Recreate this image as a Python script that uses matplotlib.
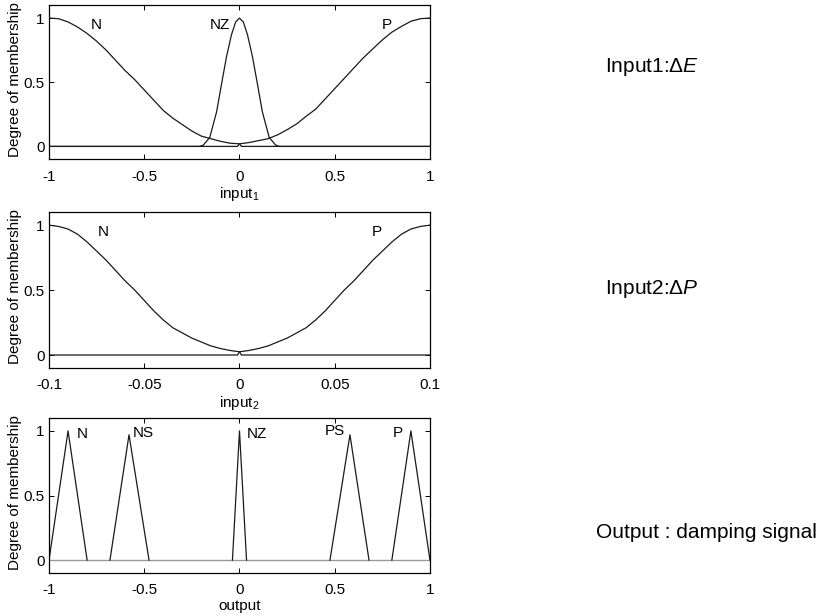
import matplotlib
matplotlib.use("Agg")
import matplotlib.pyplot as plt

plt.rcParams["font.family"] = ["Liberation Sans", "DejaVu Sans"]
plt.rcParams["mathtext.fontset"] = "custom"
plt.rcParams["mathtext.rm"] = "Liberation Sans"
plt.rcParams["mathtext.it"] = "Liberation Sans:italic"

# ── input1 membership functions ──────────────────────────────────────────────
IN1_N_X = [-1, -0.95, -0.9, -0.85, -0.8, -0.75, -0.7, -0.65, -0.6, -0.55, -0.5,
           -0.45, -0.4, -0.35, -0.3, -0.25, -0.2, -0.15, -0.1, -0.05, 0, 0.01, 1]
IN1_N_Y = [1.0, 0.995, 0.97, 0.93, 0.88, 0.82, 0.75, 0.67, 0.59, 0.52, 0.44,
           0.36, 0.28, 0.22, 0.17, 0.12, 0.08, 0.06, 0.04, 0.025, 0.02, 0, 0]
IN1_P_X = [-1, -0.01, 0, 0.05, 0.1, 0.15, 0.2, 0.25, 0.3, 0.35, 0.4, 0.45, 0.5,
           0.55, 0.6, 0.65, 0.7, 0.75, 0.8, 0.85, 0.9, 0.95, 1]
IN1_P_Y = [0, 0, 0.02, 0.03, 0.045, 0.06, 0.09, 0.13, 0.175, 0.235, 0.29, 0.37,
           0.45, 0.53, 0.61, 0.69, 0.76, 0.83, 0.89, 0.935, 0.975, 0.995, 1.0]
IN1_NZ_X = [-1, -0.21, -0.19, -0.156, -0.12, -0.095, -0.068, -0.042, -0.02, 0,
            0.02, 0.042, 0.068, 0.095, 0.12, 0.156, 0.19, 0.21, 1]
IN1_NZ_Y = [0, 0, 0.01, 0.07, 0.27, 0.48, 0.70, 0.87, 0.97, 1.0,
            0.97, 0.87, 0.70, 0.48, 0.27, 0.07, 0.01, 0, 0]
IN1_LABELS = ["N", "NZ", "P"]
IN1_LABEL_X = [-0.75, -0.105, 0.772]
IN1_LABEL_Y = [0.945, 0.945, 0.945]

# ── input2 membership functions ───────────────────────────────────────────────
IN2_N_X = [-0.1, -0.095, -0.09, -0.085, -0.08, -0.075, -0.07, -0.065, -0.06,
           -0.055, -0.05, -0.045, -0.04, -0.035, -0.03, -0.025, -0.02, -0.015,
           -0.01, -0.005, 0, 0.001, 0.1]
IN2_N_Y = [1.0, 0.99, 0.97, 0.93, 0.87, 0.80, 0.73, 0.65, 0.57, 0.50, 0.42,
           0.34, 0.27, 0.21, 0.17, 0.13, 0.10, 0.07, 0.05, 0.035, 0.025, 0, 0]
IN2_P_X = [-0.1, -0.001, 0, 0.005, 0.01, 0.015, 0.02, 0.025, 0.03, 0.035, 0.04,
           0.045, 0.05, 0.055, 0.06, 0.065, 0.07, 0.075, 0.08, 0.085, 0.09,
           0.095, 0.1]
IN2_P_Y = [0, 0, 0.025, 0.035, 0.05, 0.07, 0.10, 0.13, 0.17, 0.21, 0.27, 0.34,
           0.42, 0.50, 0.57, 0.65, 0.73, 0.80, 0.87, 0.93, 0.97, 0.99, 1.0]
IN2_LABELS = ["N", "P"]
IN2_LABEL_X = [-0.0716, 0.072]
IN2_LABEL_Y = [0.948, 0.948]

# ── output membership functions (triangles) ──────────────────────────────────
OUT_MF = {
    "N":  ([-1.0, -0.9, -0.8], [0, 1.0, 0]),
    "NS": ([-0.68, -0.58, -0.475], [0, 0.97, 0]),
    "NZ": ([-0.037, 0.0, 0.037], [0, 1.0, 0]),
    "PS": ([0.475, 0.58, 0.68], [0, 0.97, 0]),
    "P":  ([0.8, 0.9, 1.0], [0, 1.0, 0]),
}
OUT_LABELS = ["N", "NS", "NZ", "PS", "P"]
OUT_LABEL_X = [-0.825, -0.503, 0.089, 0.50, 0.833]
OUT_LABEL_Y = [0.975, 0.985, 0.98, 1.0, 0.985]

LINE = "#1a1a1a"
FS = 11

fig = plt.figure(figsize=(8.21, 6.16), dpi=100)
fig.patch.set_facecolor("white")


def style(ax, xlim, xticks, xticklabels, xlabel):
    ax.set_xlim(*xlim)
    ax.set_ylim(-0.1, 1.1)
    ax.set_xticks(xticks)
    ax.set_xticklabels(xticklabels)
    ax.set_yticks([0, 0.5, 1])
    ax.set_yticklabels(["0", "0.5", "1"])
    ax.tick_params(direction="in", length=3.5, width=0.7, labelsize=FS,
                   top=True, right=True, pad=3)
    ax.tick_params(axis="x", pad=7.5)
    for sp in ax.spines.values():
        sp.set_linewidth(0.9)
        sp.set_color("black")
    ax.set_ylabel("Degree of membership", fontsize=FS)
    ax.yaxis.set_label_coords(-0.072, 0.52)
    ax.set_xlabel(xlabel, fontsize=FS, labelpad=1)


# panel 1
ax1 = fig.add_axes([0.0597, 0.7415, 0.464, 0.25])
ax1.plot(IN1_N_X, IN1_N_Y, color=LINE, lw=0.9)
ax1.plot(IN1_NZ_X, IN1_NZ_Y, color=LINE, lw=0.9)
ax1.plot(IN1_P_X, IN1_P_Y, color=LINE, lw=0.9)
for lab, x, y in zip(IN1_LABELS, IN1_LABEL_X, IN1_LABEL_Y):
    ax1.text(x, y, lab, fontsize=FS, ha="center", va="center")
style(ax1, (-1, 1), [-1, -0.5, 0, 0.5, 1], ["-1", "-0.5", "0", "0.5", "1"],
      r"input$_1$")

# panel 2
ax2 = fig.add_axes([0.0597, 0.4026, 0.464, 0.253])
ax2.plot(IN2_N_X, IN2_N_Y, color=LINE, lw=0.9)
ax2.plot(IN2_P_X, IN2_P_Y, color=LINE, lw=0.9)
for lab, x, y in zip(IN2_LABELS, IN2_LABEL_X, IN2_LABEL_Y):
    ax2.text(x, y, lab, fontsize=FS, ha="center", va="center")
style(ax2, (-0.1, 0.1), [-0.1, -0.05, 0, 0.05, 0.1],
      ["-0.1", "-0.05", "0", "0.05", "0.1"], r"input$_2$")

# panel 3
ax3 = fig.add_axes([0.0597, 0.0698, 0.464, 0.2516])
ax3.axhline(0, color="#999999", lw=1.0)
for name in OUT_LABELS:
    xs, ys = OUT_MF[name]
    ax3.plot(xs, ys, color=LINE, lw=0.9)
for lab, x, y in zip(OUT_LABELS, OUT_LABEL_X, OUT_LABEL_Y):
    ax3.text(x, y, lab, fontsize=FS, ha="center", va="center")
style(ax3, (-1, 1), [-1, -0.5, 0, 0.5, 1], ["-1", "-0.5", "0", "0.5", "1"],
      "output")

# right-hand captions
fig.text(605 / 821, 1 - 67 / 616, r"Input1:$\Delta E$", fontsize=15,
         ha="left", va="center")
fig.text(605 / 821, 1 - 289 / 616, r"Input2:$\Delta P$", fontsize=15,
         ha="left", va="center")
fig.text(596 / 821, 1 - 533 / 616, "Output : damping signal", fontsize=15,
         ha="left", va="center")

fig.savefig("out.png", dpi=100, facecolor="white")
plt.close()
